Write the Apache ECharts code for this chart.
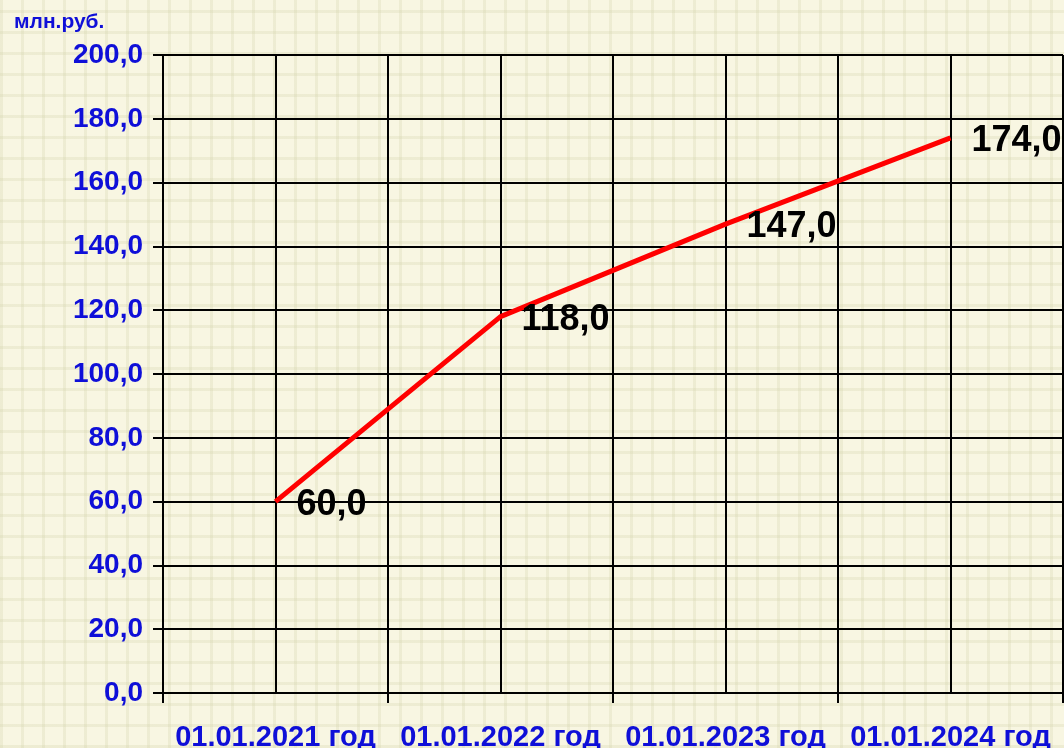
<!DOCTYPE html>
<html>
<head>
<meta charset="utf-8">
<script src="https://cdn.jsdelivr.net/npm/echarts@6/dist/echarts.min.js"></script>
<style>
  html, body { margin: 0; padding: 0; }
  body {
    width: 1064px; height: 748px;
    background-color: #f8f6e2;
    background-image:
      repeating-linear-gradient(90deg, rgba(210,210,170,0.28) 0px, rgba(210,210,170,0.28) 3px, transparent 3px, transparent 21px),
      repeating-linear-gradient(0deg, rgba(210,210,170,0.28) 0px, rgba(210,210,170,0.28) 3px, transparent 3px, transparent 21px);
  }
  #main { width: 1064px; height: 748px; }
</style>
</head>
<body>
<div id="main"></div>
<script>
// данные графика
const categories = ['01.01.2021 год', '01.01.2022 год', '01.01.2023 год', '01.01.2024 год']
const values = [60.0, 118.0, 147.0, 174.0]
const unitLabel = 'млн.руб.'

const fmt = v => v.toFixed(1).replace('.', ',')
const blue = '#0f0fd8'

var myChart = echarts.init(document.getElementById('main'), null, { renderer: 'canvas' })

myChart.setOption({
  backgroundColor: 'transparent',
  animation: false,
  title: {
    text: unitLabel,
    left: 9,
    top: 7,
    textStyle: { color: blue, fontSize: 21, fontWeight: 'bold', fontFamily: 'Liberation Sans' }
  },
  grid: { left: 163, right: 1, top: 55, bottom: 55, outerBoundsMode: 'none', containLabel: false },
  xAxis: [
    {
      type: 'category',
      data: categories,
      boundaryGap: true,
      axisLine: { lineStyle: { color: '#000', width: 2 } },
      axisTick: { show: true, length: 10, lineStyle: { color: '#000', width: 2 } },
      axisLabel: {
        interval: 0,
        color: blue, fontSize: 29, fontWeight: 'bold',
        fontFamily: 'Liberation Sans', margin: 30
      },
      splitLine: { show: true, lineStyle: { color: '#000', width: 2 } }
    },
    {
      // вспомогательная ось только для промежуточных вертикальных линий
      type: 'category',
      data: ['', '', '', '', '', '', '', ''],
      boundaryGap: true,
      position: 'bottom',
      axisLine: { show: false },
      axisTick: { show: false },
      axisLabel: { show: false },
      splitLine: { show: true, lineStyle: { color: '#000', width: 2 } }
    }
  ],
  yAxis: {
    type: 'value',
    min: 0,
    max: 200,
    interval: 20,
    axisLine: { show: true, lineStyle: { color: '#000', width: 2 } },
    axisTick: { show: true, length: 10, lineStyle: { color: '#000', width: 2 } },
    axisLabel: {
      color: blue, fontSize: 28, fontWeight: 'bold',
      fontFamily: 'Liberation Sans', margin: 20,
      formatter: v => fmt(v)
    },
    splitLine: { show: true, lineStyle: { color: '#000', width: 2 } }
  },
  series: [
    {
      type: 'line',
      xAxisIndex: 0,
      data: values,
      showSymbol: true,
      symbol: 'circle',
      symbolSize: 2,
      itemStyle: { color: 'transparent', borderWidth: 0 },
      lineStyle: { color: '#ff0000', width: 5 },
      label: {
        show: true,
        position: 'right',
        distance: 20,
        offset: [0, 3],
        color: '#000',
        fontSize: 36,
        fontWeight: 'bold',
        fontFamily: 'Liberation Sans',
        formatter: p => fmt(p.value)
      }
    }
  ]
})
</script>
</body>
</html>
